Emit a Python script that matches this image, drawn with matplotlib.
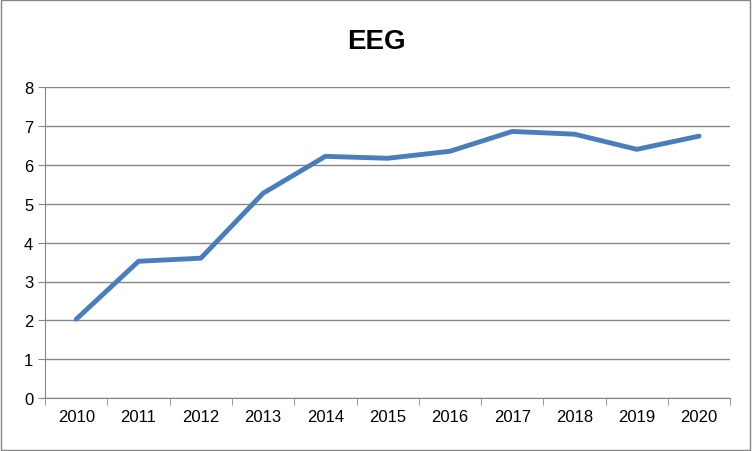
import matplotlib
matplotlib.use("Agg")
import matplotlib.pyplot as plt
from matplotlib.patches import Rectangle

years = ["2010","2011","2012","2013","2014","2015","2016","2017","2018","2019","2020"]
values = [2.03, 3.52, 3.60, 5.27, 6.22, 6.17, 6.35, 6.86, 6.79, 6.40, 6.74]
yticks = [0,1,2,3,4,5,6,7,8]

plt.rcParams["font.family"] = "Liberation Sans"
fig = plt.figure(figsize=(7.52,4.52), dpi=100)
fig.patches.append(Rectangle((0.001,0.002),0.997,0.996,transform=fig.transFigure,fill=False,edgecolor="#868686",linewidth=1))
ax = fig.add_axes([0.06,0.117,0.911,0.688])
x = list(range(len(years)))
ax.plot(x, values, color="#4a7ebb", linewidth=3.5, solid_capstyle="round", solid_joinstyle="round")
ax.set_xlim(-0.5, len(years)-0.5)
ax.set_ylim(0,8)
ax.set_yticks(yticks)
ax.set_yticklabels([str(t) for t in yticks], fontsize=12)
ax.set_xticks(x)
ax.set_xticklabels(years, fontsize=12)
ax.set_xticks([i-0.5 for i in range(len(years)+1)], minor=True)
ax.tick_params(axis="x", which="major", length=0, pad=8)
ax.tick_params(axis="x", which="minor", length=5, color="#868686")
ax.tick_params(axis="y", length=5, color="#868686", direction="out")
ax.grid(axis="y", color="#868686", linewidth=1)
ax.set_axisbelow(True)
for s in ["top","right"]:
    ax.spines[s].set_visible(False)
for s in ["left","bottom"]:
    ax.spines[s].set_color("#868686")
fig.suptitle("EEG", x=0.5, y=0.935, fontsize=20, fontweight="bold")
fig.savefig("out.png", dpi=100)
